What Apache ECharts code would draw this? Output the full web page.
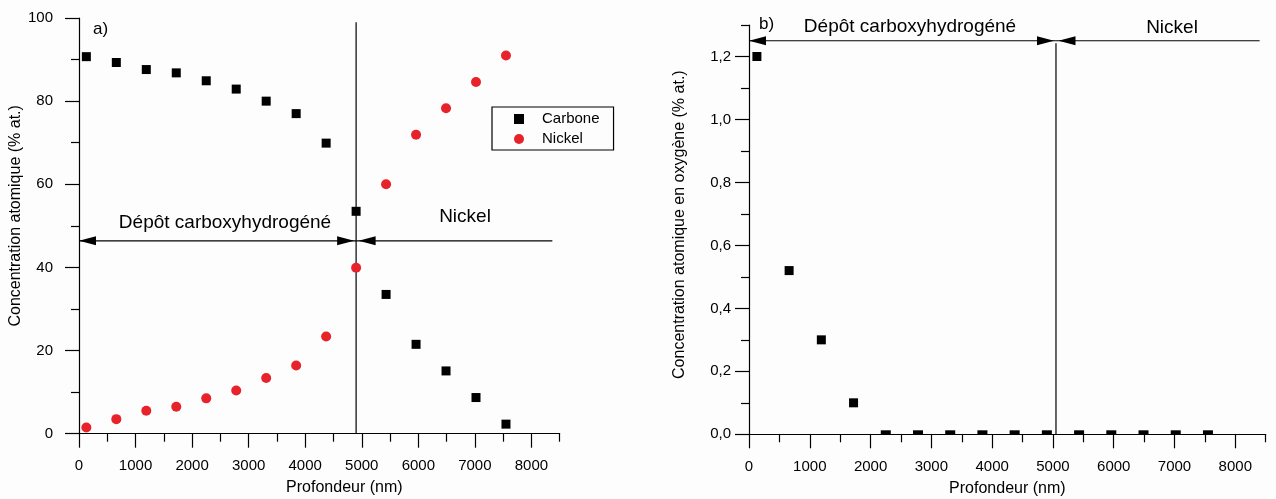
<!DOCTYPE html>
<html><head><meta charset="utf-8">
<script src="https://cdn.jsdelivr.net/npm/echarts@6/dist/echarts.min.js"></script>
<style>html,body{margin:0;padding:0;background:#fdfdfd}#c{width:1276px;height:499px}</style>
</head><body><div id="c"></div>
<script>
// ---- data ----
const depth   = [130, 660, 1190, 1720, 2250, 2780, 3310, 3840, 4370, 4900, 5430, 5960, 6490, 7020, 7550];
const carbone = [90.7, 89.3, 87.6, 86.8, 84.9, 82.9, 80.0, 77.0, 69.9, 53.5, 33.5, 21.5, 15.1, 8.7, 2.3];
const nickel  = [1.5, 3.5, 5.5, 6.5, 8.5, 10.4, 13.4, 16.4, 23.4, 39.9, 60.0, 71.9, 78.3, 84.6, 91.0];
const oxygene = [1.2, 0.52, 0.30, 0.10, 0, 0, 0, 0, 0, 0, 0, 0, 0, 0, 0];

const xMajorTicks = [0, 1000, 2000, 3000, 4000, 5000, 6000, 7000, 8000];
const xMinorTicks = [500, 1500, 2500, 3500, 4500, 5500, 6500, 7500, 8500];
const yMajorTicksA = [0, 20, 40, 60, 80, 100];
const yMinorTicksA = [10, 30, 50, 70, 90];
const yMajorTicksB = [0, 0.2, 0.4, 0.6, 0.8, 1.0, 1.2];
const yMinorTicksB = [0.1, 0.3, 0.5, 0.7, 0.9, 1.1, 1.3];

// interface depth, arrow level and arrow extents (data units)
const interfaceA = 4900, arrowLevelA = 46.4, nickelEndA = 8370, lineTopA = 99;
const interfaceB = 5050, arrowLevelB = 1.25, nickelEndB = 8400, lineTopB = 1.242;

const FONT = "'Liberation Sans', Arial, sans-serif";
const BLACK = '#000';
const RED = '#e8222a';

function zip(xs, ys) { return xs.map((x, i) => [x, ys[i]]); }

function mainAxis(grid, pos, min, max, major, fmt, margin, name, nameGap, namePad) {
  return {
    type: 'value', gridIndex: grid, position: pos, min: min, max: max,
    axisLine: { show: true, onZero: false, lineStyle: { color: BLACK, width: 1.2 } },
    axisTick: { show: true, length: 14, customValues: major, lineStyle: { color: BLACK, width: 1.2 } },
    axisLabel: { customValues: major, formatter: fmt, margin: margin, color: BLACK, fontSize: 15, fontFamily: FONT },
    splitLine: { show: false },
    name: name, nameLocation: 'middle', nameGap: nameGap,
    nameTextStyle: { color: BLACK, fontSize: 16, fontFamily: FONT, padding: namePad }
  };
}
function minorAxis(grid, pos, min, max, minor) {
  return {
    type: 'value', gridIndex: grid, position: pos, offset: 0, min: min, max: max,
    axisLine: { show: false, onZero: false },
    axisTick: { show: true, length: 8, customValues: minor, lineStyle: { color: BLACK, width: 1.2 } },
    axisLabel: { show: false },
    splitLine: { show: false }
  };
}

function renderArrow(params, api) {
  const x1 = api.value(0), x2 = api.value(1), y = api.value(2);
  const a1 = api.value(3), a2 = api.value(4);
  const p1 = api.coord([x1, y]), p2 = api.coord([x2, y]);
  const L = 17, H = 4.5;
  const children = [{ type: 'line', shape: { x1: p1[0], y1: p1[1], x2: p2[0], y2: p2[1] },
                      style: { stroke: BLACK, lineWidth: 1.2 } }];
  if (a1) {
    const tx = p1[0] + (x1 > 0 ? 2.5 : 0);
    children.push({ type: 'polygon', shape: { points: [[tx, p1[1]], [tx + L, p1[1] - H], [tx + L, p1[1] + H]] },
                    style: { fill: BLACK } });
  }
  if (a2) {
    const tx = p2[0] - 2;
    children.push({ type: 'polygon', shape: { points: [[tx, p2[1]], [tx - L, p2[1] - H], [tx - L, p2[1] + H]] },
                    style: { fill: BLACK } });
  }
  return { type: 'group', children: children };
}
function renderVLine(params, api) {
  const x = api.value(0), top = api.value(1);
  const b = api.coord([x, 0]), t = api.coord([x, top]);
  return { type: 'line', shape: { x1: b[0], y1: b[1], x2: t[0], y2: t[1] },
           style: { stroke: BLACK, lineWidth: 1.2 } };
}

const oxyPos = zip(depth, oxygene).filter(p => p[1] > 0);
const oxyZero = zip(depth, oxygene).filter(p => p[1] === 0);

const chart = echarts.init(document.getElementById('c'), null, { renderer: 'canvas' });
chart.setOption({
  animation: false,
  backgroundColor: '#fdfdfd',
  textStyle: { fontFamily: FONT },
  grid: [
    { left: 79, top: 18, width: 480.7, height: 415.7, outerBoundsMode: 'none' },
    { left: 749, top: 25, width: 516.7, height: 409.3, outerBoundsMode: 'none' }
  ],
  xAxis: [
    mainAxis(0, 'bottom', 0, 8500, xMajorTicks, v => String(v), 25, 'Profondeur (nm)', 46, [0, 0, 0, 50]),
    minorAxis(0, 'bottom', 0, 8500, xMinorTicks),
    mainAxis(1, 'bottom', 0, 8500, xMajorTicks, v => String(v), 25, 'Profondeur (nm)', 46, 0),
    minorAxis(1, 'bottom', 0, 8500, xMinorTicks)
  ],
  yAxis: [
    mainAxis(0, 'left', 0, 100, yMajorTicksA, v => String(v), 26, 'Concentration atomique (% at.)', 53, [0, 0, 0, 20]),
    minorAxis(0, 'left', 0, 100, yMinorTicksA),
    mainAxis(1, 'left', 0, 1.3, yMajorTicksB, v => v.toFixed(1).replace('.', ','), 18,
             'Concentration atomique en oxygène (% at.)', 61, [0, 0, 0, 10]),
    minorAxis(1, 'left', 0, 1.3, yMinorTicksB)
  ],
  legend: {
    data: ['Carbone', 'Nickel'],
    orient: 'vertical', left: 492, top: 107,
    borderColor: BLACK, borderWidth: 1.2, borderRadius: 0,
    padding: [4, 14, 3, 22], itemGap: 4, itemWidth: 10, itemHeight: 10,
    textStyle: { color: BLACK, fontSize: 15, fontFamily: FONT, lineHeight: 16, padding: [0, 0, 0, 13] }
  },
  graphic: [
    { type: 'text', x: 93, y: 29, style: { text: 'a)', fill: BLACK, font: '17px ' + FONT, verticalAlign: 'middle' } },
    { type: 'text', x: 759, y: 24, style: { text: 'b)', fill: BLACK, font: '17px ' + FONT, verticalAlign: 'middle' } },
    { type: 'text', x: 225, y: 223, style: { text: 'Dépôt carboxyhydrogéné', fill: BLACK, font: '19px ' + FONT, align: 'center', verticalAlign: 'middle' } },
    { type: 'text', x: 465, y: 217, style: { text: 'Nickel', fill: BLACK, font: '19px ' + FONT, align: 'center', verticalAlign: 'middle' } },
    { type: 'text', x: 910, y: 27, style: { text: 'Dépôt carboxyhydrogéné', fill: BLACK, font: '19px ' + FONT, align: 'center', verticalAlign: 'middle' } },
    { type: 'text', x: 1172, y: 28, style: { text: 'Nickel', fill: BLACK, font: '19px ' + FONT, align: 'center', verticalAlign: 'middle' } }
  ],
  series: [
    { name: 'Carbone', type: 'scatter', xAxisIndex: 0, yAxisIndex: 0, symbol: 'rect', symbolSize: 9,
      itemStyle: { color: BLACK, opacity: 1 }, data: zip(depth, carbone), z: 5 },
    { name: 'Nickel', type: 'scatter', xAxisIndex: 0, yAxisIndex: 0, symbol: 'circle', symbolSize: 10,
      itemStyle: { color: RED, opacity: 1 }, data: zip(depth, nickel), z: 5 },
    { name: 'Oxygène', type: 'scatter', xAxisIndex: 2, yAxisIndex: 2, symbol: 'rect', symbolSize: 9,
      itemStyle: { color: BLACK, opacity: 1 }, data: oxyPos, z: 5 },
    { name: 'Oxygène0', type: 'scatter', xAxisIndex: 2, yAxisIndex: 2, symbol: 'rect', symbolSize: [10, 4],
      symbolOffset: [0, -2], itemStyle: { color: BLACK, opacity: 1 }, data: oxyZero, z: 5 },
    { type: 'custom', xAxisIndex: 0, yAxisIndex: 0, renderItem: renderArrow, encode: { x: [0, 1], y: 2 },
      data: [[0, interfaceA, arrowLevelA, 1, 1], [interfaceA, nickelEndA, arrowLevelA, 1, 0]], z: 3, silent: true },
    { type: 'custom', xAxisIndex: 0, yAxisIndex: 0, renderItem: renderVLine, encode: { x: 0, y: 1 },
      data: [[interfaceA, lineTopA]], z: 3, silent: true },
    { type: 'custom', xAxisIndex: 2, yAxisIndex: 2, renderItem: renderArrow, encode: { x: [0, 1], y: 2 },
      data: [[0, interfaceB, arrowLevelB, 1, 1], [interfaceB, nickelEndB, arrowLevelB, 1, 0]], z: 3, silent: true },
    { type: 'custom', xAxisIndex: 2, yAxisIndex: 2, renderItem: renderVLine, encode: { x: 0, y: 1 },
      data: [[interfaceB, lineTopB]], z: 3, silent: true }
  ]
});
</script>
</body></html>
